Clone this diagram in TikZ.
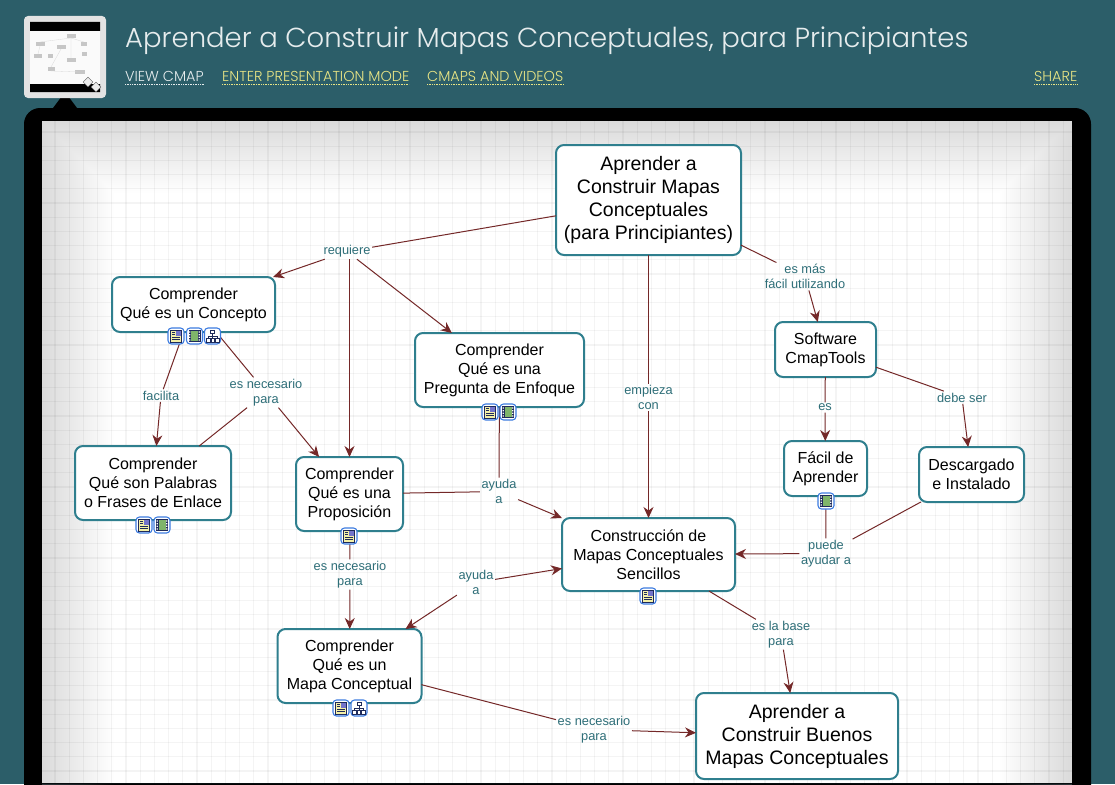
\documentclass[tikz,border=0pt]{standalone}
\usepackage{fontspec}
\setmainfont{Liberation Sans}
\newfontfamily\headfont{Poppins Light}
\usetikzlibrary{positioning, arrows.meta, calc}
\definecolor{pagebg}{HTML}{2C5E69}
\definecolor{boxedge}{HTML}{2F7F8E}
\definecolor{linktext}{HTML}{2E6E78}
\definecolor{linkred}{HTML}{742828}
\definecolor{paperedge}{HTML}{B9C6CE}
\definecolor{headyellow}{HTML}{E9E585}
\definecolor{iconblue}{HTML}{3C7BE0}
\definecolor{icondark}{HTML}{1E2A5A}
\definecolor{iconyellow}{HTML}{F4F0A8}
\definecolor{icongreen}{HTML}{7FB56A}
\tikzset{
  iconframe/.style={draw=iconblue, fill=white, line width=1.1pt, rounded corners=3.5pt},
  docicon/.pic={
    \draw[iconframe] (-8,-8) rectangle (8,8);
    \draw[icondark, fill=iconyellow, line width=.8pt] (-5.5,-6) rectangle (5.5,6);
    \fill[gray!55!blue!75!white] (-.5,-5.5) rectangle (5,-.5);
    \draw[icondark, line width=.6pt] (-4,-3.5) -- (-1.5,-3.5) (-4,-1.5) -- (-1.5,-1.5) (-4,1) -- (4,1) (-4,3) -- (4,3);
  },
  filmicon/.pic={
    \draw[iconframe] (-8,-8) rectangle (8,8);
    \fill[icondark] (-6,-6) rectangle (6,6);
    \fill[icongreen] (-3.5,-5) rectangle (3.5,5);
    \foreach \fy in {-4,-1.3,1.3,4} {
      \fill[white] (-5.3,{\fy-.6}) rectangle (-4.2,{\fy+.6}) (4.2,{\fy-.6}) rectangle (5.3,{\fy+.6});
    }
  },
  treeicon/.pic={
    \draw[iconframe] (-8,-8) rectangle (8,8);
    \draw[icondark, line width=.9pt] (0,-3) -- (0,3) (-4.5,3.5) -- (-4.5,.5) -- (4.5,.5) -- (4.5,3.5);
    \draw[icondark, fill=white, line width=.8pt] (-2,-6) rectangle (2,-2.5) (-6.5,2.5) rectangle (-2.5,6) (-1.5,2.5) rectangle (1.5,6) (2.5,2.5) rectangle (6.5,6);
  }
}
\begin{document}
\begin{tikzpicture}[
  x=1pt, y=-1pt,
  concept/.style={rectangle, draw=boxedge, fill=white, line width=2pt, rounded corners=8pt, align=center, inner sep=0pt, outer sep=0pt, font=\fontsize{16}{19}\selectfont},
  bigconcept/.style={concept, font=\fontsize{19.5}{23}\selectfont},
  linklabel/.style={text=linktext, align=center, inner sep=1.5pt, yshift=-1.5pt, font=\fontsize{12.8}{15}\selectfont},
  plain/.style={draw=linkred, line width=1pt},
  arrow/.style={plain, -{Stealth[length=11pt, width=10pt]}},
  headlink/.style={anchor=base west, inner sep=0pt, font=\headfont\fontsize{14.4}{16}\selectfont}
]
  \useasboundingbox (0,0) rectangle (1115,784);
  \fill[pagebg] (0,0) rectangle (1115,784);

  \fill[black, rounded corners=16pt] (24,108) rectangle (1091,820);
  \fill[black] (53,108) -- (65,92) -- (77,108) -- cycle;
  \fill[white] (42,121) rectangle (1072,784);
  \begin{scope}
    \clip (42,121) rectangle (1072,784);
    \foreach \w in {4,8,...,144} {
      \draw[paperedge, opacity=.012, line width=\w pt] (42,121) rectangle (1072,860);
    }
    \foreach \i in {0,...,71} {
      \draw[black, opacity=.045, line width=1.1pt] ({55+14.2*\i},121) -- ({55+14.2*\i},784);
    }
    \foreach \i in {0,...,46} {
      \draw[black, opacity=.045, line width=1.1pt] (42,{132+14.2*\i}) -- (1072,{132+14.2*\i});
    }
  \end{scope}
  \fill[black!85!pagebg] (42,782.5) rectangle (1072,784);

  \fill[gray!22!white, rounded corners=4pt] (24,16) rectangle (106,98);
  \fill[white!96!gray] (30,22) rectangle (100,92);
  \fill[black] (30,22) rectangle (100,31) (30,84) rectangle (100,92);
  \foreach \mx/\my/\mw in {71/36/9, 40/44/9, 61/47/9, 84/44/6, 38/56/8, 50/56/5, 84/54/5, 71/60/9, 51/69/7, 80/72/10} {
    \fill[gray!45!white] ({\mx-\mw/2},{\my-2}) rectangle ({\mx+\mw/2},{\my+2});
  }
  \draw[gray!30!white, line width=.3pt] (71,38) -- (40,42) (71,38) -- (71,58) (71,38) -- (84,42) (61,49) -- (51,67) (40,46) -- (38,54) (51,71) -- (80,72);
  \foreach \mx/\my in {88/82, 96/87} {
    \draw[gray!70!black, fill=gray!15!white, rotate around={45:(\mx,\my)}] ({\mx-3.5},{\my-3.5}) rectangle ({\mx+3.5},{\my+3.5});
  }

  \node[anchor=base west, inner sep=0pt, text=white!88!pagebg, font=\headfont\fontsize{27.5}{32}\selectfont] (title) at (125,48) {Aprender a Construir Mapas Conceptuales, para Principiantes};
  \node[headlink, text=white!88!pagebg] (viewcmap) at (125,81.5) {VIEW CMAP};
  \node[headlink, text=headyellow] (presentation) at (222,81.5) {ENTER PRESENTATION MODE};
  \node[headlink, text=headyellow] (videos) at (427,81.5) {CMAPS AND VIDEOS};
  \node[headlink, text=headyellow] (share) at (1034,81.5) {SHARE};
  \draw[white!88!pagebg, densely dotted, line width=.7pt] (125,84) -- (204,84);
  \draw[headyellow, densely dotted, line width=.7pt] (222,84) -- (409,84) (427,84) -- (564,84) (1034,84) -- (1077,84);

  \node[bigconcept, minimum width=185pt, minimum height=110pt] (root) at (648.5,200) {Aprender a\\Construir Mapas\\Conceptuales\\(para Principiantes)};
  \node[concept, minimum width=163pt, minimum height=55pt, below left=22pt and 281pt of root] (concepto) {Comprender\\Qué es un Concepto};
  \node[concept, minimum width=169pt, minimum height=74pt, below right=1pt and 140pt of concepto] (enfoque) {Comprender\\Qué es una\\Pregunta de Enfoque};
  \node[concept, minimum width=156pt, minimum height=74pt, below=114pt of concepto, xshift=-40.5pt] (palabras) {Comprender\\Qué son Palabras\\o Frases de Enlace};
  \node[concept, minimum width=107pt, minimum height=74pt, right=65pt of palabras, yshift=-11pt] (proposicion) {Comprender\\Qué es una\\Proposición};
  \node[concept, minimum width=144pt, minimum height=74pt, below=98pt of proposicion] (mapa) {Comprender\\Qué es un\\Mapa Conceptual};
  \node[concept, minimum width=173pt, minimum height=73pt, below=263pt of root] (construccion) {Construcción de\\Mapas Conceptuales\\Sencillos};
  \node[bigconcept, minimum width=202pt, minimum height=86pt, below=102pt of construccion, xshift=148.5pt] (buenos) {Aprender a\\Construir Buenos\\Mapas Conceptuales};
  \node[concept, minimum width=101pt, minimum height=55pt, below right=67pt and 34pt of root] (software) {Software\\CmapTools};
  \node[concept, minimum width=83pt, minimum height=55pt, below=64pt of software] (facil) {Fácil de\\Aprender};
  \node[concept, minimum width=105pt, minimum height=55pt, right=52pt of facil, yshift=-6pt] (descargado) {Descargado\\e Instalado};

  \node[linklabel] (requiere) at (347,250) {requiere};
  \node[linklabel] (utilizando) at (805,275) {es más\\fácil utilizando};
  \node[linklabel] (empieza) at (648.5,396) {empieza\\con};
  \node[linklabel] (facilita) at (161,394) {facilita};
  \node[linklabel] (necesarioa) at (266,391) {es necesario\\para};
  \node[linklabel] (ayudaa) at (499,490) {ayuda\\a};
  \node[linklabel] (necesariob) at (350,573) {es necesario\\para};
  \node[linklabel] (ayudab) at (476,581) {ayuda\\a};
  \node[linklabel] (es) at (825,406) {es};
  \node[linklabel] (debeser) at (962,396) {debe ser};
  \node[linklabel] (puede) at (826,552) {puede\\ayudar a};
  \node[linklabel] (base) at (781,633) {es la base\\para};
  \node[linklabel] (necesarioc) at (594,728) {es necesario\\para};

  \draw[plain] (root) -- (requiere);
  \draw[arrow] (requiere) -- (concepto);
  \draw[arrow] (requiere.south -| proposicion.north) -- (proposicion);
  \draw[arrow] (requiere) -- (enfoque);
  \draw[plain] (root) -- (utilizando);
  \draw[arrow] (utilizando) -- (software);
  \draw[plain] (root) -- (empieza);
  \draw[arrow] (empieza) -- (construccion);
  \draw[plain] (concepto) -- (facilita);
  \draw[arrow] (facilita) -- (palabras);
  \draw[plain] (concepto) -- (necesarioa);
  \draw[arrow] (necesarioa) -- (proposicion);
  \draw[plain] (necesarioa) -- (palabras);
  \draw[plain] (enfoque) -- (ayudaa);
  \draw[plain] (proposicion) -- (ayudaa);
  \draw[arrow] (ayudaa) -- (construccion);
  \draw[plain] (proposicion) -- (necesariob);
  \draw[arrow] (necesariob) -- (mapa);
  \draw[arrow] (ayudab) -- (construccion);
  \draw[arrow] (ayudab) -- (mapa);
  \draw[plain] (software) -- (es);
  \draw[arrow] (es) -- (facil);
  \draw[plain] (software) -- (debeser);
  \draw[arrow] (debeser) -- (descargado);
  \draw[plain] (facil) -- (puede);
  \draw[plain] (descargado) -- (puede);
  \draw[arrow] (puede) -- (construccion);
  \draw[plain] (construccion) -- (base);
  \draw[arrow] (base) -- (buenos);
  \draw[plain] (mapa) -- (necesarioc);
  \draw[arrow] (necesarioc) -- (buenos);

  \pic at (176,336) {docicon};
  \pic at (194.5,336) {filmicon};
  \pic at (212.5,336) {treeicon};
  \pic at (490,412) {docicon};
  \pic at (508,412) {filmicon};
  \pic at (144,525) {docicon};
  \pic at (162,525) {filmicon};
  \pic at (349,536) {docicon};
  \pic at (648,596) {docicon};
  \pic at (341,708) {docicon};
  \pic at (359,708) {treeicon};
  \pic at (826,501) {filmicon};
\end{tikzpicture}
\end{document}
